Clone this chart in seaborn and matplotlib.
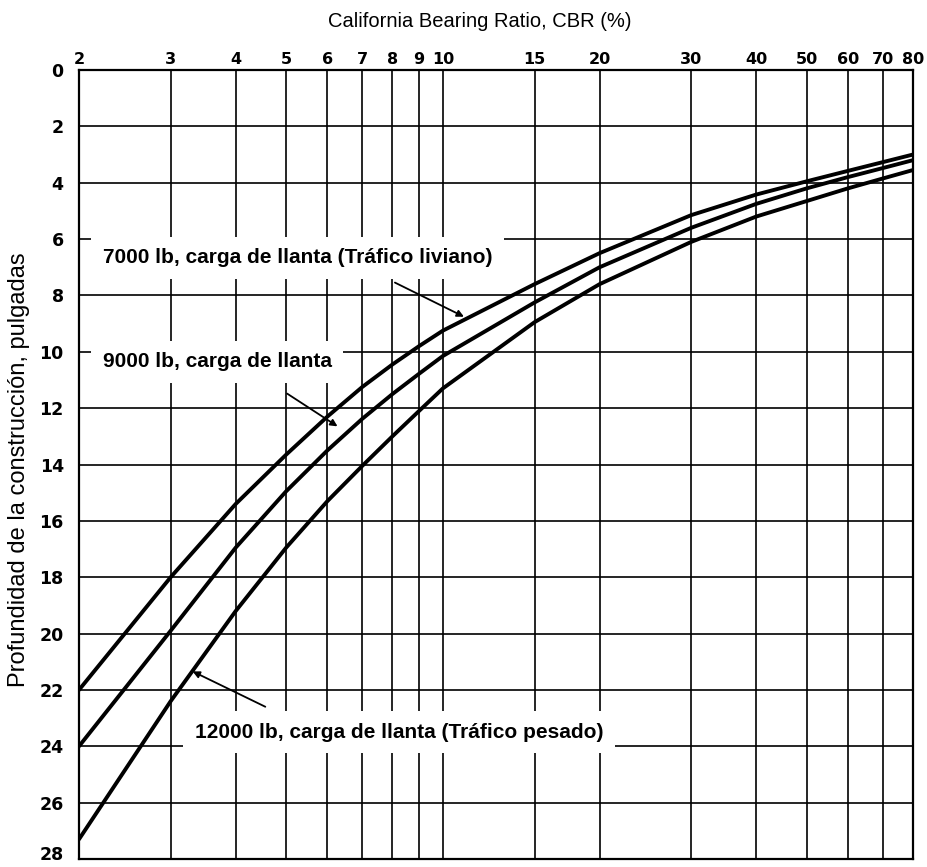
import matplotlib
matplotlib.use("Agg")
import matplotlib.pyplot as plt
import seaborn as sns
import pandas as pd
from matplotlib.ticker import NullLocator, FixedLocator, FixedFormatter

# ---- data ----
cbr = [2, 3, 4, 5, 6, 7, 8, 9, 10, 15, 20, 30, 40, 50, 60, 70, 80]
depth_7000 = [22.0, 18.0, 15.4, 13.65, 12.3, 11.25, 10.45, 9.8, 9.25, 7.6, 6.5, 5.15, 4.42, 3.95, 3.58, 3.27, 3.0]
depth_9000 = [24.0, 19.9, 16.95, 14.95, 13.5, 12.38, 11.5, 10.78, 10.15, 8.25, 7.0, 5.6, 4.75, 4.2, 3.8, 3.48, 3.2]
depth_12000 = [27.3, 22.4, 19.2, 16.95, 15.3, 14.05, 13.0, 12.1, 11.3, 8.95, 7.6, 6.1, 5.2, 4.65, 4.2, 3.85, 3.55]
series_names = ["7000 lb", "9000 lb", "12000 lb"]

x_ticks = [2, 3, 4, 5, 6, 7, 8, 9, 10, 15, 20, 30, 40, 50, 60, 70, 80]
x_tick_labels = ["2", "3", "4", "5", "6", "7", "8", "9", "10", "15", "20", "30", "40", "50", "60", "70", "80"]
y_ticks = list(range(0, 29, 2))
y_tick_labels = [str(v) for v in y_ticks]

title = "California Bearing Ratio, CBR (%)"
ylabel = "Profundidad de la construcción, pulgadas"
label_7000 = "7000 lb, carga de llanta (Tráfico liviano)"
label_9000 = "9000 lb, carga de llanta"
label_12000 = "12000 lb, carga de llanta (Tráfico pesado)"

df = pd.DataFrame({
    "CBR": cbr * 3,
    "depth": depth_7000 + depth_9000 + depth_12000,
    "series": [series_names[0]] * len(cbr) + [series_names[1]] * len(cbr) + [series_names[2]] * len(cbr),
})

sns.set_theme(style="white")
plt.rcParams["font.family"] = ["Liberation Sans", "DejaVu Sans"]

fig = plt.figure(figsize=(9.28, 8.67), dpi=100)
ax = fig.add_axes([79 / 928, 1 - 859 / 867, (913 - 79) / 928, (859 - 70) / 867])

sns.lineplot(data=df, x="CBR", y="depth", hue="series",
             palette=["black", "black", "black"], linewidth=2.8,
             legend=False, ax=ax, sort=True, estimator=None)
for ln in ax.get_lines():
    ln.set_solid_joinstyle("round")

ax.set_xscale("log")
ax.set_xlim(2, 80)
ax.set_ylim(28, 0)
ax.xaxis.set_major_locator(FixedLocator(x_ticks))
ax.xaxis.set_major_formatter(FixedFormatter(x_tick_labels))
ax.xaxis.set_minor_locator(NullLocator())
ax.set_yticks(y_ticks)
# the bottom label is drawn separately, lifted slightly so it stays inside the image
ax.set_yticklabels(y_tick_labels[:-1] + [""])
ax.xaxis.tick_top()
ax.tick_params(axis="both", length=0, colors="black")
ax.tick_params(axis="x", pad=2, labelsize=11.5)
ax.tick_params(axis="y", pad=11, labelsize=12.5)
for lab in ax.get_xticklabels() + ax.get_yticklabels():
    lab.set_fontweight("bold")
    lab.set_family("DejaVu Sans")
ax.annotate(y_tick_labels[-1], xy=(0, y_ticks[-1]), xycoords=("axes fraction", "data"),
            xytext=(-11, 3), textcoords="offset points", ha="right", va="center",
            fontsize=12.5, fontweight="bold", family="DejaVu Sans", color="black",
            annotation_clip=False)

ax.grid(True, which="major", color="black", linewidth=1.2)
for sp in ax.spines.values():
    sp.set_color("black")
    sp.set_linewidth(1.6)

ax.set_xlabel("")
ax.set_ylabel("")
fig.text(0.517, 0.975, title, ha="center", va="center", fontsize=14.5, color="black")
fig.text(0.021, 0.458, ylabel, ha="center", va="center", rotation=90, fontsize=17, color="black")

box = dict(facecolor="white", edgecolor="none", boxstyle="square,pad=0.55")
ax.text(2.22, 6.67, label_7000, ha="left", va="center", fontsize=15, fontweight="bold",
        color="black", bbox=box, zorder=5)
ax.text(2.22, 10.36, label_9000, ha="left", va="center", fontsize=15, fontweight="bold",
        color="black", bbox=box, zorder=5)
ax.text(3.34, 23.5, label_12000, ha="left", va="center", fontsize=15, fontweight="bold",
        color="black", bbox=box, zorder=5)

arrow = dict(arrowstyle="-|>", color="black", lw=1.3, mutation_scale=10)
ax.annotate("", xy=(11.1, 8.8), xytext=(8.0, 7.5), arrowprops=arrow, zorder=6)
ax.annotate("", xy=(6.34, 12.7), xytext=(4.97, 11.43), arrowprops=arrow, zorder=6)
ax.annotate("", xy=(3.27, 21.3), xytext=(4.61, 22.64), arrowprops=arrow, zorder=6)

fig.savefig("out.png", dpi=100, facecolor="white")
